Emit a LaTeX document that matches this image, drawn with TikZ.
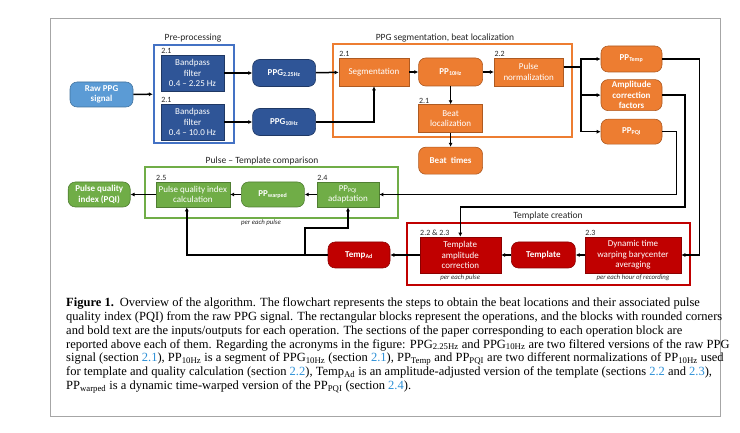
\documentclass[tikz,border=0pt]{standalone}
\usepackage{fontspec}
\setmainfont{Liberation Serif}
\newfontfamily\diagfont{Carlito}
\usetikzlibrary{arrows.meta,positioning,calc}
\definecolor{rawblue}{HTML}{5B9BD5}
\definecolor{rawedge}{HTML}{41719C}
\definecolor{opblue}{HTML}{2F5597}
\definecolor{blueedge}{HTML}{1F3864}
\definecolor{groupblue}{HTML}{4472C4}
\definecolor{oporange}{HTML}{ED7D31}
\definecolor{orangeedge}{HTML}{AE5A21}
\definecolor{opgreen}{HTML}{70AD47}
\definecolor{greenedge}{HTML}{507E32}
\definecolor{opred}{HTML}{C00000}
\definecolor{rededge}{HTML}{8B0000}
\definecolor{framegray}{HTML}{A6A6A6}
\definecolor{linkblue}{HTML}{2C8FD6}
\definecolor{labelgray}{HTML}{262626}
\newcommand{\seclink}[1]{\textcolor{linkblue}{#1}}
\tikzset{
  >={Latex[length=4pt,width=4pt]},
  flow/.style={->,line width=1.5pt,draw=black},
  wire/.style={line width=1.5pt,draw=black},
  opbox/.style={draw,line width=0.6pt,text=white,align=center,inner sep=1pt,
    font=\diagfont\fontsize{9}{10.6}\selectfont},
  databox/.style={opbox,rounded corners=2.5mm,font=\diagfont\bfseries\fontsize{9}{10.6}\selectfont},
  blueop/.style={opbox,fill=opblue,draw=blueedge},
  bluedata/.style={databox,fill=opblue,draw=blueedge},
  rawdata/.style={databox,fill=rawblue,draw=rawedge},
  orangeop/.style={opbox,fill=oporange,draw=orangeedge},
  orangedata/.style={databox,fill=oporange,draw=orangeedge},
  greenop/.style={opbox,fill=opgreen,draw=greenedge},
  greendata/.style={databox,fill=opgreen,draw=greenedge},
  redop/.style={opbox,fill=opred,draw=rededge},
  reddata/.style={databox,fill=opred,draw=rededge},
  group/.style={draw,line width=2.3pt,inner sep=0pt},
  grouplabel/.style={font=\diagfont\fontsize{9.5}{11}\selectfont,text=labelgray,inner sep=1pt},
  seclabel/.style={font=\diagfont\fontsize{8}{9}\selectfont,text=labelgray,inner sep=0.5pt,anchor=south west},
  note/.style={font=\diagfont\itshape\fontsize{6.8}{8}\selectfont,text=labelgray,inner sep=0.5pt},
  caption/.style={align=left,inner sep=0pt,font=\fontsize{12.5}{13.85}\selectfont}
}
\begin{document}
\begin{tikzpicture}[x=1pt,y=-1pt]
  \useasboundingbox (0,0) rectangle (740,433);
  \draw[framegray,line width=1pt] (50,19) rectangle (720,416);
  % group frames
  \node[group,draw=groupblue,minimum width=80pt,minimum height=98pt] (pre) at (194,94) {};
  \node[group,draw=oporange,minimum width=239pt,minimum height=93pt] (segbox) at (452.5,90.5) {};
  \node[group,draw=opgreen,minimum width=253pt,minimum height=51pt] (cmpbox) at (271.5,192.5) {};
  \node[group,draw=opred,minimum width=283pt,minimum height=62pt] (tplbox) at (548.5,254) {};
  \node[grouplabel] at (193,38) {Pre-processing};
  \node[grouplabel] at (445,38) {PPG segmentation, beat localization};
  \node[grouplabel] at (262,161) {Pulse – Template comparison};
  \node[grouplabel] at (548,216) {Template creation};
  % pre-processing
  \node[rawdata,minimum width=63pt,minimum height=25pt] (raw) at (101.5,94.5) {Raw PPG\\signal};
  \node[blueop,minimum width=63pt,minimum height=36pt] (bp1) at (192.5,73) {Bandpass\\filter\\0.4 – 2.25 Hz};
  \node[blueop,minimum width=63pt,minimum height=36pt] (bp2) at (192.5,122) {Bandpass\\filter\\0.4 – 10.0 Hz};
  \node[bluedata,minimum width=63pt,minimum height=27pt,right=28pt of bp1] (ppgA) {PPG\textsubscript{2.25Hz}};
  \node[bluedata,minimum width=63pt,minimum height=27pt,right=28pt of bp2] (ppgB) {PPG\textsubscript{10Hz}};
  % segmentation
  \node[orangeop,minimum width=70pt,minimum height=28pt] (segm) at (374,72) {Segmentation};
  \node[orangedata,minimum width=64pt,minimum height=28pt,right=9pt of segm] (pp10) {PP\textsubscript{10Hz}};
  \node[orangeop,minimum width=69pt,minimum height=28pt,right=11pt of pp10] (pnorm) {Pulse\\normalization};
  \node[orangeop,minimum width=64pt,minimum height=28pt,below=18pt of pp10] (beatloc) {Beat\\localization};
  \node[orangedata,minimum width=64pt,minimum height=27pt,below=14pt of beatloc] (beattimes) {Beat\ \ times};
  \node[orangedata,minimum width=61pt,minimum height=26pt] (pptemp) at (631.5,59) {PP\textsubscript{Temp}};
  \node[orangedata,minimum width=61pt,minimum height=31pt,below=7pt of pptemp] (ampcorr) {Amplitude\\correction\\factors};
  \node[orangedata,minimum width=61pt,minimum height=25pt,below=8pt of ampcorr] (pppqi) {PP\textsubscript{PQI}};
  % comparison
  \node[greenop,minimum width=62pt,minimum height=25pt] (adapt) at (348,194.5) {PP\textsubscript{PQI}\\adaptation};
  \node[greendata,minimum width=63pt,minimum height=25pt,left=12pt of adapt] (ppwarped) {PP\textsubscript{warped}};
  \node[greenop,minimum width=74pt,minimum height=25pt,left=11pt of ppwarped] (pqicalc) {Pulse quality index\\calculation};
  \node[greendata,minimum width=62pt,minimum height=25pt,left=25pt of pqicalc] (pqi) {Pulse quality\\index (PQI)};
  % template creation
  \node[redop,minimum width=96pt,minimum height=36pt] (dtw) at (633,255) {Dynamic time\\warping barycenter\\averaging};
  \node[reddata,minimum width=64pt,minimum height=26pt,left=9pt of dtw] (template) {Template};
  \node[redop,minimum width=81pt,minimum height=36pt,left=10pt of template] (tac) {Template\\amplitude\\correction};
  \node[reddata,minimum width=62pt,minimum height=26pt] (tempad) at (359,255) {Temp\textsubscript{Ad}};
  % section numbers and notes
  \node[seclabel] at (bp1.north west) {2.1};
  \node[seclabel] at (bp2.north west) {2.1};
  \node[seclabel] at (segm.north west) {2.1};
  \node[seclabel] at (beatloc.north west) {2.1};
  \node[seclabel] at (pnorm.north west) {2.2};
  \node[seclabel] at (pqicalc.north west) {2.5};
  \node[seclabel] at (adapt.north west) {2.4};
  \node[seclabel] at (tac.north west) {2.2 \& 2.3};
  \node[seclabel] at (dtw.north west) {2.3};
  \node[note,below=0.5pt of tac] {per each pulse};
  \node[note,below=0.5pt of dtw] {per each hour of recording};
  \node[note] at (261,223) {per each pulse};
  % connectors
  \draw[flow] (raw) -- (pre);
  \draw[flow] (bp1) -- (ppgA);
  \draw[flow] (bp2) -- (ppgB);
  \draw[flow] (ppgA) -- (segm);
  \draw[flow] (ppgB.east) -| (segm.south);
  \draw[flow] (segm) -- (pp10);
  \draw[flow] (pp10) -- (pnorm);
  \draw[flow] (pp10) -- (beatloc);
  \draw[flow] (beatloc) -- (beattimes);
  \coordinate (fork) at (581,67);
  \draw[wire] ([yshift=5pt]pnorm.east) -- (fork);
  \draw[flow] (fork) |- (pptemp.west);
  \draw[flow] (fork) |- (ampcorr.west);
  \draw[flow] (fork) |- (pppqi.west);
  \draw[flow] (pptemp.east) -- ++(37,0) |- (dtw.east);
  \coordinate (ampturn) at (685,207);
  \draw[flow] (ampcorr.east) -| (ampturn) -| (tac.north);
  \draw[flow] (pppqi.east) -- ++(14,0) |- (adapt.east);
  \draw[flow] (dtw) -- (template);
  \draw[flow] (template) -- (tac);
  \draw[flow] (tac) -- (tempad);
  \draw[flow] (tempad.west) -| ([xshift=-6pt]pqicalc.south);
  \coordinate (split) at (305,255);
  \draw[flow] (split) -- ++(0,-27) -| (adapt.south);
  \draw[flow] (adapt) -- (ppwarped);
  \draw[flow] (ppwarped) -- (pqicalc);
  \draw[flow] (pqicalc) -- (pqi);
  % caption
  \node[caption,anchor=north west] (cap) at (66,297.5) {%
\textbf{Figure 1.}\hspace{6pt}Overview of the algorithm. The flowchart represents the steps to obtain the beat locations and their associated pulse\\
quality index (PQI) from the raw PPG signal. The rectangular blocks represent the operations, and the blocks with rounded corners\\
and bold text are the inputs/outputs for each operation. The sections of the paper corresponding to each operation block are\\
reported above each of them. Regarding the acronyms in the figure: PPG\textsubscript{2.25Hz} and PPG\textsubscript{10Hz} are two filtered versions of the raw PPG\\
signal (section \seclink{2.1}), PP\textsubscript{10Hz} is a segment of PPG\textsubscript{10Hz} (section \seclink{2.1}), PP\textsubscript{Temp} and PP\textsubscript{PQI} are two different normalizations of PP\textsubscript{10Hz} used\\
for template and quality calculation (section \seclink{2.2}), Temp\textsubscript{Ad} is an amplitude-adjusted version of the template (sections \seclink{2.2} and \seclink{2.3}),\\
PP\textsubscript{warped} is a dynamic time-warped version of the PP\textsubscript{PQI} (section \seclink{2.4}).};
\end{tikzpicture}
\end{document}
